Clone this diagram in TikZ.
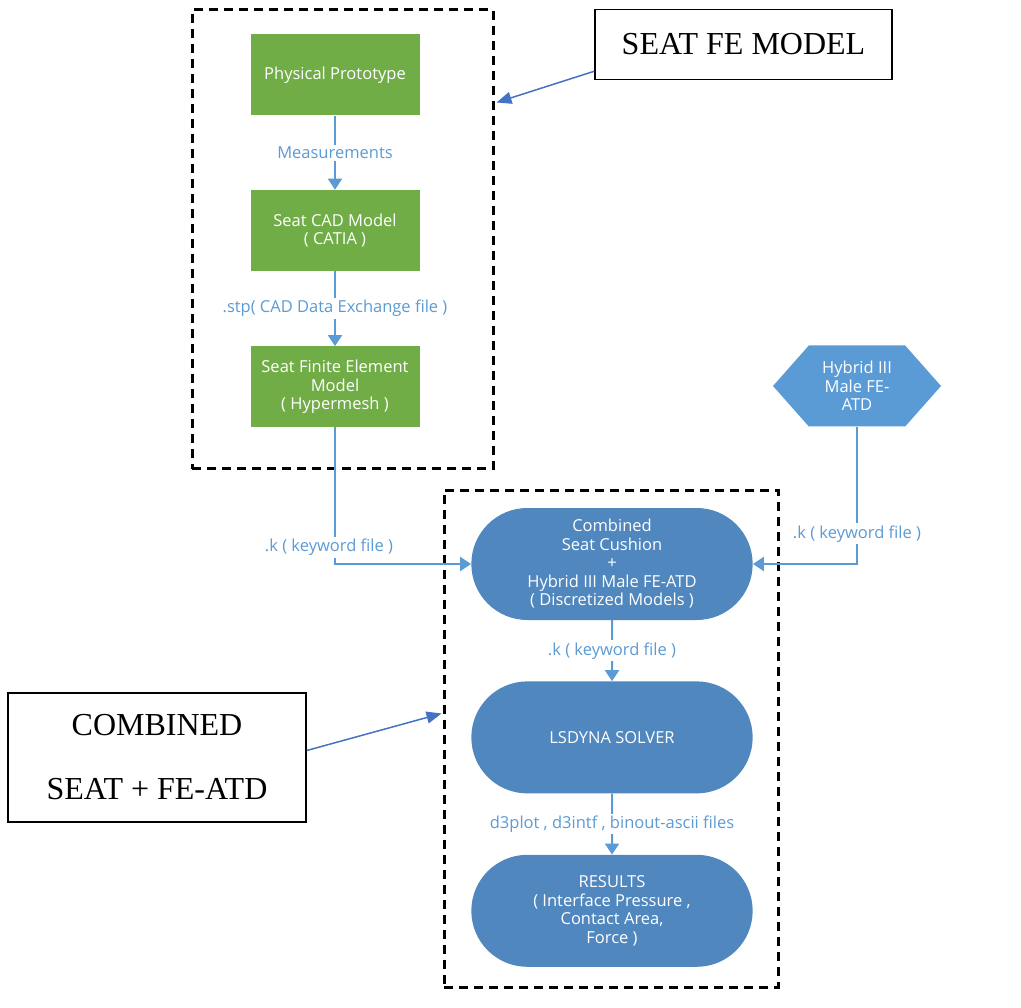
\documentclass[tikz,border=0pt]{standalone}
\usepackage{fontspec}
\setmainfont{Open Sans}
\newfontfamily\calloutfont{Liberation Serif}
\usetikzlibrary{positioning,calc,arrows.meta,shapes.misc,shapes.symbols}

\definecolor{stepgreen}{HTML}{70AD47}
\definecolor{solverblue}{HTML}{4F87BE}
\definecolor{atdblue}{HTML}{5B9BD5}
\definecolor{flowblue}{HTML}{5B9BD5}
\definecolor{calloutblue}{HTML}{4472C4}

\tikzstyle{greenbox}=[rectangle,fill=stepgreen,text=white,minimum width=169pt,minimum height=81pt,align=center,font=\fontsize{16.5}{18.5}\selectfont]
\tikzstyle{solverbox}=[rounded rectangle,fill=solverblue,text=white,minimum width=288pt,minimum height=112pt,align=center,font=\fontsize{16.5}{18.5}\selectfont]
\tikzstyle{atdbox}=[signal,signal to=east and west,signal pointer angle=97,fill=atdblue,text=white,minimum width=168pt,minimum height=81pt,align=center,font=\fontsize{16.5}{18.5}\selectfont]
\tikzstyle{flow}=[flowblue,line width=2pt,-{Triangle[width=14pt,length=11pt]}]
\tikzstyle{flowlabel}=[fill=white,text=flowblue,inner sep=2pt,font=\fontsize{16.5}{18}\selectfont]
\tikzstyle{groupbox}=[draw=black,line width=3pt,dash pattern=on 9pt off 6pt]
\tikzstyle{callout}=[draw=black,line width=1.5pt,align=center,font=\calloutfont\fontsize{32}{64}\selectfont]
\tikzstyle{pointer}=[calloutblue,line width=1.5pt,-{Triangle[width=12pt,length=15pt]}]

\begin{document}
\begin{tikzpicture}[x=1pt,y=-1pt]
\useasboundingbox (0,0) rectangle (1021,1008);

% seat fe model
\node[greenbox] (proto) at (335,75) {Physical Prototype};
\node[greenbox,below=74pt of proto] (cad) {Seat CAD Model\\( CATIA )};
\node[greenbox,below=75pt of cad] (fem) {Seat Finite Element\\Model\\( Hypermesh )};
\node[groupbox,minimum width=301pt,minimum height=459pt] (seatgroup) at (342.5,239.5) {};

\draw[flow] (proto) -- node[flowlabel]{Measurements} (cad);
\draw[flow] (cad) -- node[flowlabel]{.stp( CAD Data Exchange file )} (fem);

% combined seat + fe-atd
\node[solverbox] (combined) at (612,564) {Combined\\Seat Cushion\\+\\Hybrid III Male FE-ATD\\( Discretized Models )};
\node[solverbox,below=61pt of combined] (solver) {LSDYNA SOLVER};
\node[solverbox,below=61pt of solver] (results) {RESULTS\\( Interface Pressure ,\\Contact Area,\\Force )};
\node[groupbox,minimum width=334pt,minimum height=497pt] (solvergroup) at (611,738.5) {};

\node[atdbox] (atd) at (857,386) {Hybrid III\\Male FE-\\ATD};

\draw[flow] (fem.south) |- node[flowlabel,pos=0.44,xshift=-6pt]{.k ( keyword file )} (combined.west);
\draw[flow] (atd.south) |- node[flowlabel,pos=0.39]{.k ( keyword file )} (combined.east);
\draw[flow] (combined) -- node[flowlabel]{.k ( keyword file )} (solver);
\draw[flow] (solver) -- node[flowlabel]{d3plot , d3intf , binout-ascii files} (results);

% callouts
\node[callout,minimum width=297pt,minimum height=70pt] (seatlabel) at (743.5,44.5) {SEAT FE MODEL};
\node[callout,minimum width=298pt,minimum height=129pt] (combinedlabel) at (157,757.5) {COMBINED\\SEAT + FE-ATD};

\draw[pointer] ($(seatlabel.south west)+(0,-9)$) -- ($(seatgroup.north east)+(2,94)$);
\draw[pointer] ($(combinedlabel.east)+(0,-7)$) -- ($(solvergroup.west)+(-1,-25)$);
\end{tikzpicture}
\end{document}
